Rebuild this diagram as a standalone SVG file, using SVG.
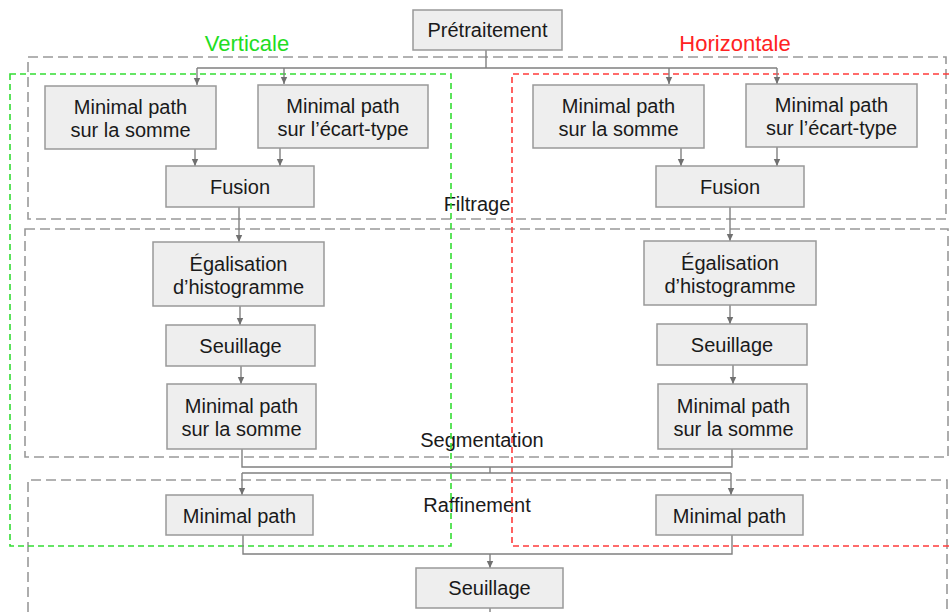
<svg xmlns="http://www.w3.org/2000/svg" width="950" height="612" viewBox="0 0 950 612">
  <style>
    .frame { fill: none; stroke: #999; stroke-width: 1.6; stroke-dasharray: 10 5; }
    .vert { fill: none; stroke: #33dd33; stroke-width: 1.6; stroke-dasharray: 6 4; }
    .horiz { fill: none; stroke: #ff3b3b; stroke-width: 1.6; stroke-dasharray: 6 4; }
    .box { fill: #eeeeee; stroke: #999; stroke-width: 1.5; }
    .txt { font-family: "Liberation Sans", Arial, sans-serif; font-size: 20px; fill: #1a1a1a; text-anchor: middle; }
    .title { font-family: "Liberation Sans", Arial, sans-serif; font-size: 22px; text-anchor: middle; }
    .wire { fill: none; stroke: #808080; stroke-width: 1.4; }
    .arr { fill: none; stroke: #808080; stroke-width: 1.4; marker-end: url(#head); }
  </style>
  <defs>
    <marker id="head" markerUnits="userSpaceOnUse" markerWidth="8" markerHeight="8" refX="7" refY="4" orient="auto">
      <path d="M0,0.8 L7,4 L0,7.2 Z" fill="#707070"/>
    </marker>
  </defs>

  <rect width="950" height="612" fill="#ffffff"/>

  <!-- stage frames -->
  <g id="frames">
    <rect class="frame" x="28" y="57" width="918" height="162"/>
    <rect class="frame" x="25" y="229" width="923" height="228"/>
    <path class="frame" d="M28,612 V480 H947 V612"/>
    <text class="txt" x="477" y="211">Filtrage</text>
    <text class="txt" x="482" y="447">Segmentation</text>
    <text class="txt" x="477" y="512">Raffinement</text>
  </g>

  <!-- direction frames -->
  <g id="directions">
    <rect class="vert" x="10" y="74" width="441" height="472"/>
    <path class="horiz" d="M949,74 H512 V546 H949"/>
    <text class="title" x="247" y="51" fill="#22dd22">Verticale</text>
    <text class="title" x="735" y="51" fill="#ff2222">Horizontale</text>
  </g>

  <!-- connectors -->
  <g id="connectors">
    <path class="wire" d="M486,50 V68 M197,68 H777"/>
    <path class="arr" d="M197,68 V85"/>
    <path class="arr" d="M284,68 V84"/>
    <path class="arr" d="M669,68 V84"/>
    <path class="arr" d="M777,68 V84"/>

    <path class="arr" d="M195,149 V166"/>
    <path class="arr" d="M280,148 V166"/>
    <path class="arr" d="M681,148 V166"/>
    <path class="arr" d="M777,147 V166"/>

    <path class="arr" d="M239,207 V242"/>
    <path class="arr" d="M240,306 V325"/>
    <path class="arr" d="M241,366 V384"/>
    <path class="arr" d="M730,207 V241"/>
    <path class="arr" d="M730,305 V324"/>
    <path class="arr" d="M733,365 V384"/>

    <path class="wire" d="M242,449 V467 H732 V449 M490,467 V473 M242,473 H731"/>
    <path class="arr" d="M242,473 V495"/>
    <path class="arr" d="M731,473 V495"/>

    <path class="wire" d="M243,535 V554 H732 V535"/>
    <path class="arr" d="M490,554 V568"/>
    <path class="wire" d="M490,608 V612"/>
  </g>

  <!-- nodes -->
  <g id="pretraitement">
    <rect class="box" x="413" y="10" width="149" height="40"/>
    <text class="txt" x="487.5" y="37">Prétraitement</text>
  </g>

  <g id="v-mp-somme">
    <rect class="box" x="45" y="86" width="171" height="63"/>
    <text class="txt" x="130.5" y="114">Minimal path</text>
    <text class="txt" x="130.5" y="137">sur la somme</text>
  </g>
  <g id="v-mp-ecart">
    <rect class="box" x="258" y="85" width="170" height="63"/>
    <text class="txt" x="343" y="113">Minimal path</text>
    <text class="txt" x="343" y="136">sur l’écart-type</text>
  </g>
  <g id="v-fusion">
    <rect class="box" x="166" y="166" width="148" height="41"/>
    <text class="txt" x="240" y="194">Fusion</text>
  </g>
  <g id="v-egalisation">
    <rect class="box" x="153" y="242" width="171" height="64"/>
    <text class="txt" x="238.5" y="271">Égalisation</text>
    <text class="txt" x="238.5" y="294">d’histogramme</text>
  </g>
  <g id="v-seuillage">
    <rect class="box" x="166" y="325" width="149" height="41"/>
    <text class="txt" x="240.5" y="353">Seuillage</text>
  </g>
  <g id="v-mp-seg">
    <rect class="box" x="167" y="384" width="149" height="65"/>
    <text class="txt" x="241.5" y="413">Minimal path</text>
    <text class="txt" x="241.5" y="436">sur la somme</text>
  </g>
  <g id="v-mp-raff">
    <rect class="box" x="166" y="495" width="147" height="40"/>
    <text class="txt" x="239.5" y="522.5">Minimal path</text>
  </g>

  <g id="h-mp-somme">
    <rect class="box" x="533" y="85" width="171" height="63"/>
    <text class="txt" x="618.5" y="113">Minimal path</text>
    <text class="txt" x="618.5" y="136">sur la somme</text>
  </g>
  <g id="h-mp-ecart">
    <rect class="box" x="746" y="84" width="171" height="63"/>
    <text class="txt" x="831.5" y="112">Minimal path</text>
    <text class="txt" x="831.5" y="135">sur l’écart-type</text>
  </g>
  <g id="h-fusion">
    <rect class="box" x="656" y="166" width="148" height="41"/>
    <text class="txt" x="730" y="194">Fusion</text>
  </g>
  <g id="h-egalisation">
    <rect class="box" x="644" y="241" width="172" height="64"/>
    <text class="txt" x="730" y="270">Égalisation</text>
    <text class="txt" x="730" y="293">d’histogramme</text>
  </g>
  <g id="h-seuillage">
    <rect class="box" x="657" y="324" width="150" height="41"/>
    <text class="txt" x="732" y="352">Seuillage</text>
  </g>
  <g id="h-mp-seg">
    <rect class="box" x="658" y="384" width="149" height="65"/>
    <text class="txt" x="733.5" y="413">Minimal path</text>
    <text class="txt" x="733.5" y="436">sur la somme</text>
  </g>
  <g id="h-mp-raff">
    <rect class="box" x="656" y="495" width="147" height="40"/>
    <text class="txt" x="729.5" y="522.5">Minimal path</text>
  </g>

  <g id="seuillage-final">
    <rect class="box" x="416" y="568" width="147" height="40"/>
    <text class="txt" x="489.5" y="595">Seuillage</text>
  </g>
</svg>
